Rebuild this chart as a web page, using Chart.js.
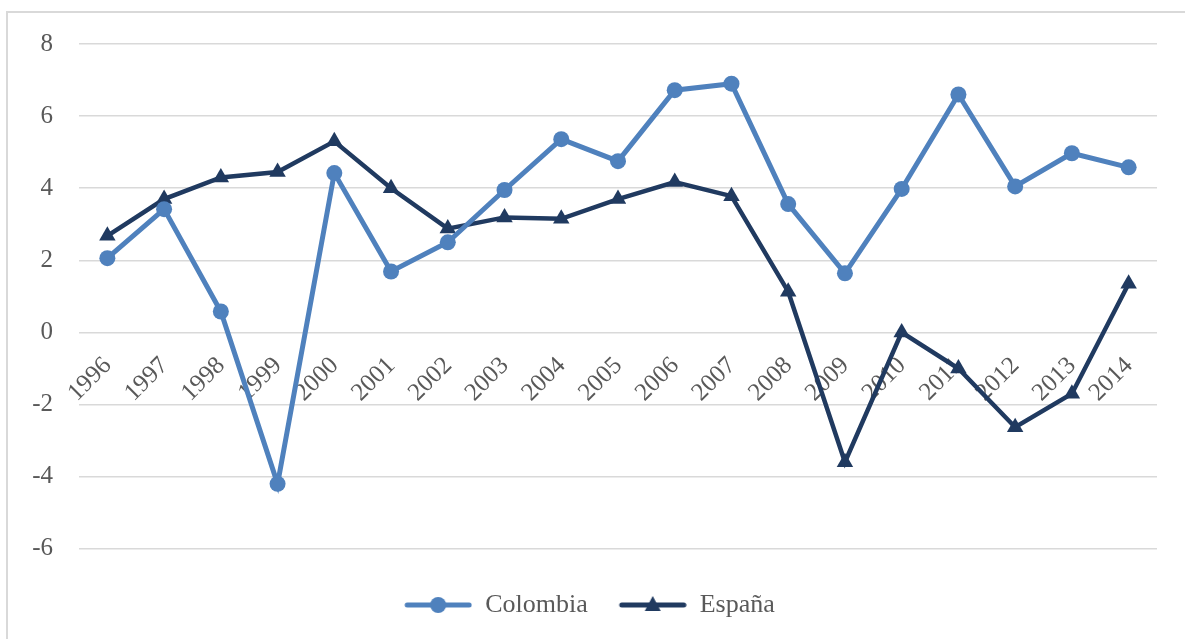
<!DOCTYPE html>
<html>
<head>
<meta charset="utf-8">
<script src="https://cdn.jsdelivr.net/npm/chart.js@4/dist/chart.umd.min.js"></script>
<style>
  body { margin: 0; background: #fff; overflow: hidden; }
  #frame { position: absolute; left: 6px; top: 11px; width: 1400px; height: 800px; border: 2px solid #d9d9d9; }
  #growth { position: absolute; left: 0; top: 0; }
</style>
</head>
<body>
<div id="frame"></div>
<canvas id="growth" width="1185" height="639"></canvas>
<script>
// data
let years = ['1996', '1997', '1998', '1999', '2000', '2001', '2002', '2003', '2004', '2005',
             '2006', '2007', '2008', '2009', '2010', '2011', '2012', '2013', '2014']
let colombia = [2.06, 3.42, 0.58, -4.2, 4.42, 1.69, 2.5, 3.95, 5.36, 4.75,
                6.72, 6.9, 3.56, 1.64, 3.98, 6.6, 4.05, 4.97, 4.58]
let espana = [2.68, 3.7, 4.3, 4.45, 5.3, 4.0, 2.88, 3.19, 3.15, 3.7,
              4.17, 3.78, 1.13, -3.6, 0.0, -1.0, -2.63, -1.7, 1.35]
let yTicks = [-6, -4, -2, 0, 2, 4, 6, 8]

let colombiaColor = '#4f81bd'
let espanaColor = '#203a60'
let textColor = '#595959'
let serif = '"Liberation Serif", "Times New Roman", serif'

// legend symbols: a short line with the marker on it
// (blank strip on the left gives the wider gap between the two entries)
let symbolLead = 22
function legendSymbol(color, shape) {
    let c = document.createElement('canvas')
    c.width = 68 + symbolLead
    c.height = 26
    let g = c.getContext('2d')
    g.translate(symbolLead, 0)
    g.strokeStyle = color
    g.lineWidth = 5
    g.lineCap = 'round'
    g.beginPath()
    g.moveTo(3, 13)
    g.lineTo(65, 13)
    g.stroke()
    g.fillStyle = color
    g.beginPath()
    if (shape == 'circle') {
        g.arc(34, 13, 8, 0, Math.PI * 2)
    } else {
        g.moveTo(34, 4)
        g.lineTo(42, 19)
        g.lineTo(26, 19)
        g.closePath()
    }
    g.fill()
    return c
}
let symbols = [legendSymbol(colombiaColor, 'circle'), legendSymbol(espanaColor, 'triangle')]

// year labels sit rotated just under the zero line, like the original
let yearLabels = {
    id: 'yearLabels',
    beforeDatasetsDraw(chart) {
        let ctx = chart.ctx
        let x = chart.scales.x
        let y0 = chart.scales.y.getPixelForValue(0)
        ctx.save()
        ctx.font = '25px ' + serif
        ctx.fillStyle = textColor
        ctx.textAlign = 'right'
        ctx.textBaseline = 'alphabetic'
        years.forEach(function(year, i) {
            ctx.save()
            ctx.translate(x.getPixelForValue(i) + 5, y0 + 34)
            ctx.rotate(-Math.PI / 4)
            ctx.fillText(year, 0, 0)
            ctx.restore()
        })
        ctx.restore()
    }
}

let chart = new Chart(document.querySelector('#growth'), {
    type: 'line',
    data: {
        labels: years,
        datasets: [
            {
                label: 'Colombia',
                data: colombia,
                borderColor: colombiaColor,
                backgroundColor: colombiaColor,
                borderWidth: 5,
                pointStyle: 'circle',
                pointRadius: 8,
                pointBorderWidth: 0,
                tension: 0
            },
            {
                label: 'España',
                data: espana,
                borderColor: espanaColor,
                backgroundColor: espanaColor,
                borderWidth: 4.5,
                pointStyle: 'triangle',
                pointRadius: 9.5,
                pointBorderWidth: 0,
                tension: 0
            }
        ]
    },
    options: {
        responsive: false,
        animation: false,
        devicePixelRatio: 1,
        layout: { padding: { top: 44, left: 0, right: 28, bottom: 11 } },
        scales: {
            x: {
                display: false,
                offset: true
            },
            y: {
                min: -6.95,
                max: 8,
                afterBuildTicks: function(scale) {
                    scale.ticks = yTicks.map(v => ({ value: v }))
                },
                afterFit: function(scale) { scale.width = 79 },
                grid: { color: '#d9d9d9', lineWidth: 1.5, drawTicks: false },
                border: { display: false },
                ticks: {
                    padding: 26,
                    color: textColor,
                    font: { family: serif, size: 25 }
                }
            }
        },
        plugins: {
            tooltip: { enabled: false },
            legend: {
                position: 'bottom',
                labels: {
                    usePointStyle: true,
                    pointStyleWidth: 68 + symbolLead,
                    padding: 9,
                    color: textColor,
                    font: { family: serif, size: 26 },
                    generateLabels: function(chart) {
                        return chart.data.datasets.map(function(ds, i) {
                            return {
                                text: ds.label,
                                pointStyle: symbols[i],
                                fontColor: textColor,
                                strokeStyle: ds.borderColor,
                                fillStyle: ds.borderColor,
                                lineWidth: 0,
                                datasetIndex: i
                            }
                        })
                    }
                }
            }
        }
    },
    plugins: [yearLabels]
})
</script>
</body>
</html>
